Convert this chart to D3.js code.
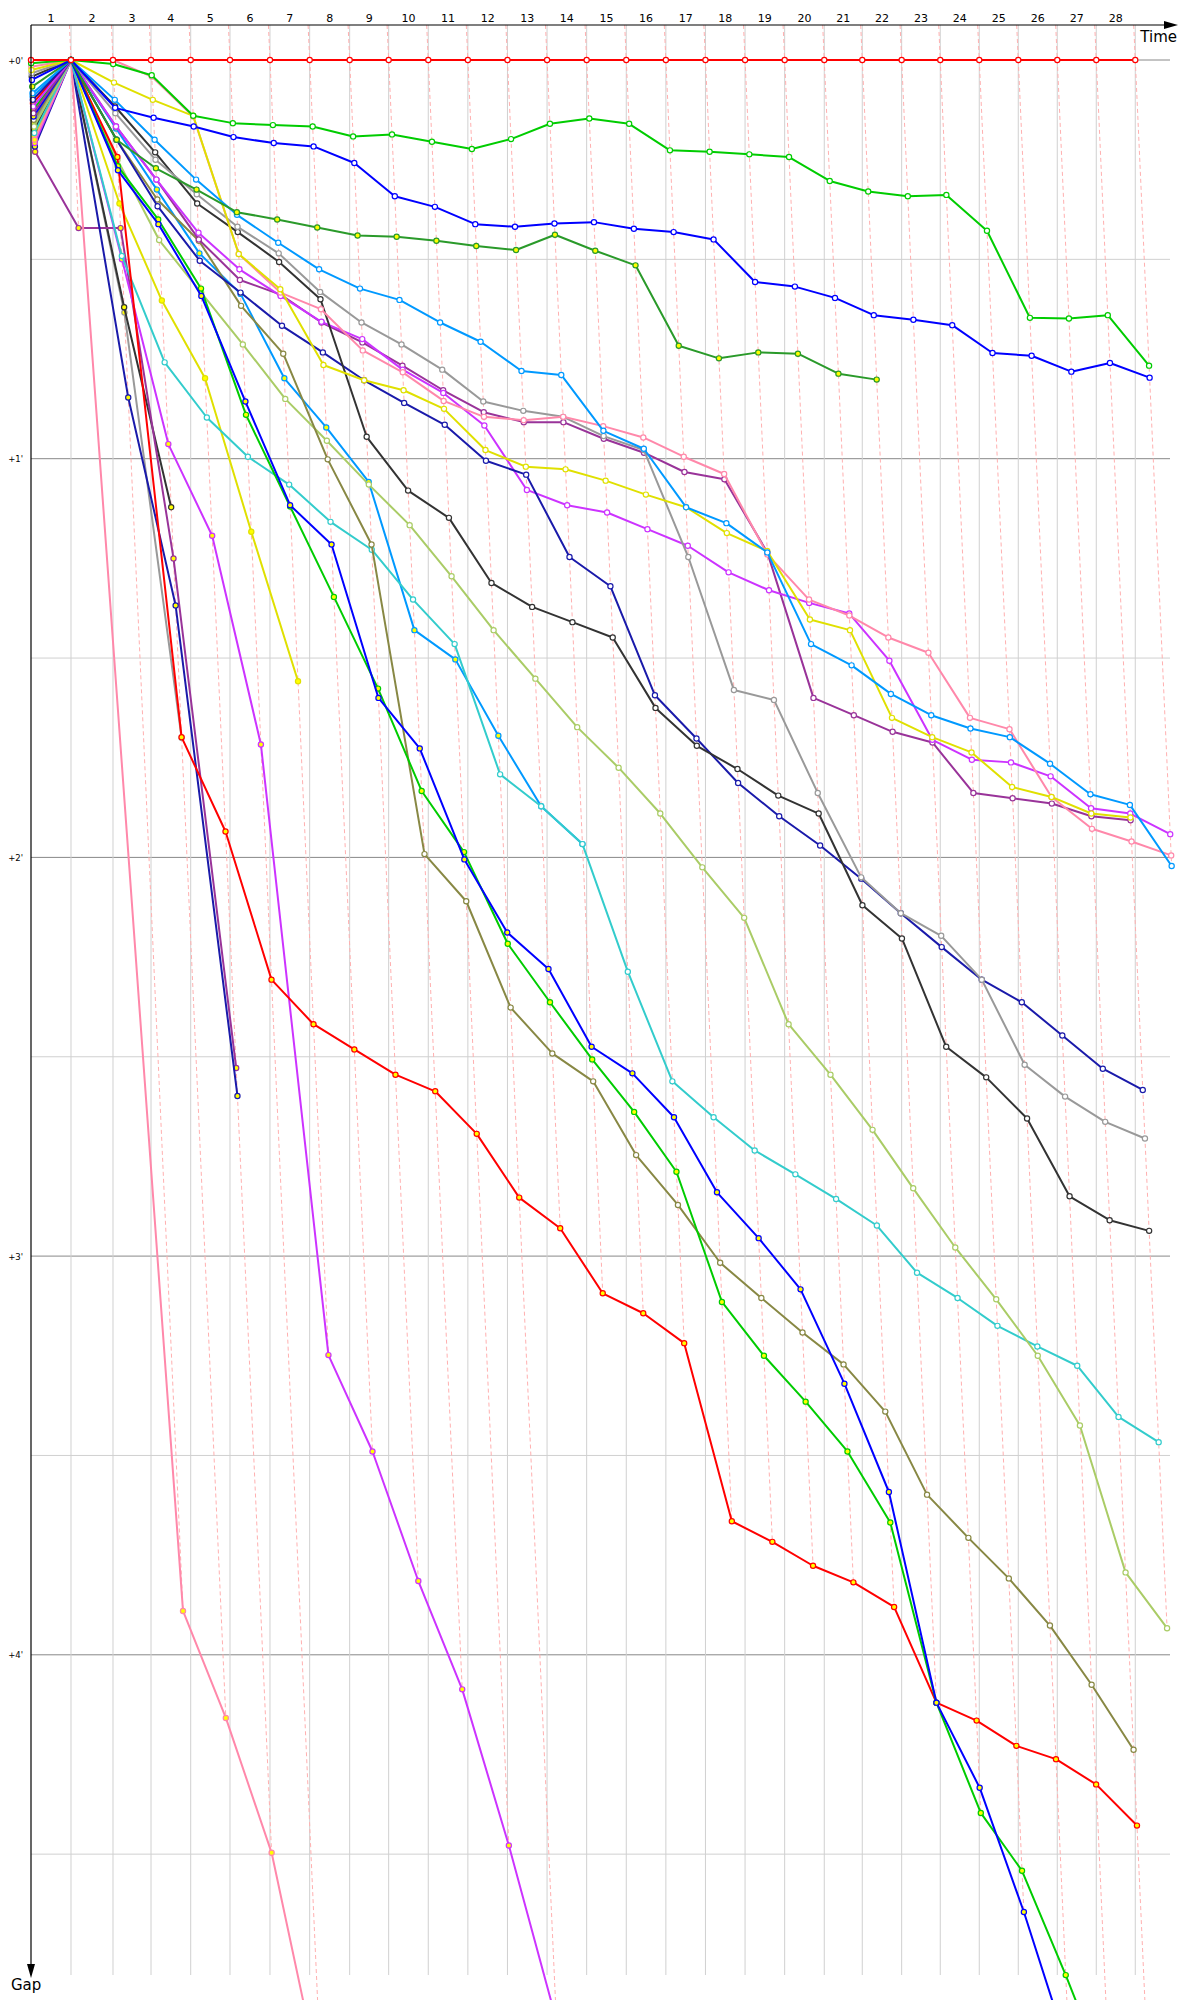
<!DOCTYPE html>
<html>
<head>
<meta charset="utf-8">
<script src="https://cdn.jsdelivr.net/npm/d3@7"></script>
<style>
  body { margin: 0; background: #fff; }
  svg { display: block; }
  text { font-family: "DejaVu Sans", sans-serif; }
</style>
</head>
<body>
<svg id="chart" width="1200" height="2000"></svg>
<script>
// lap numbers shown on the time axis
var lapLabels = d3.range(1, 29);

// leader lap times, seconds (lap 1 .. lap 28)
var leaderLapTimes = [133.3, 140, 126.7, 132.3, 131, 133.3, 132.3, 133.3, 130,
  132, 132, 132, 132, 132, 132, 132, 132, 132, 132, 132,
  126.7, 131.3, 128.7, 130, 130, 130, 130, 130];

// gap to leader in seconds, index = lap (0 = start)
var gapsLeader = d3.range(29).map(function() { return 0; });
var gapsGreen = [0.5, 0, 0.6, 2.3, 8.4, 9.5, 9.8, 10.0, 11.5, 11.2, 12.3, 13.4, 11.9, 9.6, 8.8, 9.6, 13.6, 13.8, 14.2, 14.6, 18.2, 19.8, 20.5, 20.3, 25.7, 38.8, 38.9, 38.4, 46.0];
var gapsBlue = [3, 0, 7.2, 8.7, 10.0, 11.6, 12.5, 13.0, 15.5, 20.5, 22.1, 24.7, 25.1, 24.6, 24.4, 25.4, 25.9, 27.0, 33.4, 34.1, 35.8, 38.4, 39.1, 39.9, 44.1, 44.5, 46.9, 45.6, 47.8];
var gapsForest = [4, 0, 12.0, 16.3, 19.5, 22.9, 24.0, 25.2, 26.4, 26.6, 27.2, 28.0, 28.6, 26.3, 28.7, 30.9, 43.0, 44.9, 44.0, 44.2, 47.2, 48.1];
var gapsSky = [5, 0, 6, 12, 18, 23.3, 27.5, 31.5, 34.4, 36.1, 39.5, 42.4, 46.8, 47.4, 55.8, 58.5, 67.3, 69.7, 74.1, 87.9, 91.1, 95.4, 98.6, 100.6, 101.9, 105.9, 110.5, 112.1, 121.3];
var gapsYellow = [1.5, 0, 3.4, 6.0, 8.4, 29.2, 34.5, 45.9, 48.2, 49.7, 52.5, 58.7, 61.2, 61.6, 63.3, 65.4, 67.3, 71.2, 73.9, 84.2, 85.8, 99, 101.9, 104.2, 109.4, 110.9, 113.4, 114];
var gapsPink = [1, 0, 0, 2.5, 8.5, 29.2, 35, 37.5, 43.7, 47, 51.3, 53.7, 54.2, 53.7, 55.1, 56.8, 59.7, 62.3, 74.4, 81.2, 83.6, 86.9, 89.2, 99, 100.7, 110.9, 115.7, 117.6, 119.7];
var gapsGrey = [2, 0, 8, 15, 20.2, 25.1, 29.1, 34.9, 39.5, 42.8, 46.6, 51.4, 52.8, 53.7, 56.6, 58.7, 74.8, 94.8, 96.3, 110.3, 123, 128.4, 131.8, 138.4, 151.2, 156, 159.8, 162.3];
var gapsBlack = [2.5, 0, 7, 13.9, 21.6, 25.9, 30.4, 36, 56.7, 64.8, 68.9, 78.7, 82.3, 84.6, 86.9, 97.5, 103.2, 106.7, 110.7, 113.4, 127.2, 132.2, 148.5, 153.1, 159.3, 171, 174.6, 176.2];
var gapsNavy = [6, 0, 12, 22, 30.2, 35, 40, 44, 48.2, 51.6, 54.9, 60.3, 62.4, 74.8, 79.2, 95.6, 102.1, 108.8, 113.8, 118.2, 123.2, 128.4, 133.5, 138.4, 141.8, 146.8, 151.8, 155];
var gapsMagenta = [7, 0, 10, 18, 26, 31.5, 35.5, 39.4, 42, 46.6, 50.1, 55, 64.7, 67, 68.1, 70.6, 73.1, 77.1, 79.8, 81.7, 83.3, 90.4, 102.3, 105.3, 105.7, 107.8, 112.6, 113.4, 116.5];
var gapsPurple = [8, 0, 10, 18, 27, 33.1, 35.3, 39.5, 42.5, 46, 49.7, 53, 54.5, 54.5, 57, 59.1, 62, 63.1, 74.1, 96, 98.6, 101.1, 102.7, 110.3, 111.1, 111.9, 113.8, 114.4];
var gapsOlive = [9, 0, 12, 21, 27.2, 37, 44.2, 60.1, 72.9, 119.5, 126.6, 142.6, 149.5, 153.7, 164.8, 172.3, 181, 186.3, 191.5, 196.3, 203.4, 215.9, 222.4, 228.5, 235.6, 244.5, 254.3];
var gapsLime = [10, 0, 15, 27.1, 35, 42.8, 51, 57.3, 63.9, 70, 77.7, 85.8, 93.1, 100.4, 106.5, 113.4, 121.5, 129.1, 145.1, 152.7, 161, 169.8, 178.7, 186.5, 195, 205.5, 227.6, 236];
var gapsCyan = [11, 0, 29.5, 45.5, 53.8, 59.7, 63.9, 69.5, 73.7, 81.2, 87.9, 107.5, 112.3, 118, 137.2, 153.7, 159.1, 164.1, 167.7, 171.4, 175.4, 182.5, 186.3, 190.5, 193.6, 196.5, 204.2, 208];
var gapsSky2 = [5.5, 0, 10.3, 19.5, 29.1, 35.2, 47.9, 55.3, 63.5, 85.8, 90.2, 101.7, 112.3, 118];
var gapsRed2 = [6.5, 0, 14.6, 101.9, 116.1, 138.4, 145.1, 148.9, 152.7, 155.2, 161.6, 171.2, 175.8, 185.6, 188.6, 193.1, 219.9, 223, 226.6, 229.1, 232.8, 247.2, 249.9, 253.7, 255.7, 259.5, 265.7];
var gapsGreen2 = [7.5, 0, 16, 24, 34.4, 53.4, 67.2, 80.8, 94.6, 110, 119.2, 133, 141.8, 150.4, 158.3, 167.3, 186.9, 195, 201.9, 209.4, 220.1, 247.2, 263.8, 272.5, 288.2, 305, 320];
var gapsBlue2 = [8.5, 0, 16.6, 24.7, 35.5, 51.4, 67, 72.9, 96, 103.6, 120.3, 131.3, 136.8, 148.5, 152.5, 159.1, 170.4, 177.3, 185, 199.2, 215.5, 247.2, 260.0, 278.7, 300, 318, 335];
var gapsPink2 = [12, 0, 233.4, 249.5, 269.8, 305];
var gapsMagenta2 = [12.5, 0, 30, 57.8, 71.6, 103, 194.9, 209.4, 228.9, 245.2, 268.7, 295];
var gapsNavy2 = [13, 0, 50.8, 82.1, 155.9];
var gapsPurple2 = [13.8, 25.3, 25.3, 75, 151.7];
var gapsBlack2 = [10.5, 0, 37.2, 67.3];
var gapsGrey2 = [9.5, 0, 38, 102];
var gapsYellow2 = [11.5, 0, 21.6, 36.2, 47.9, 71, 93.5];

// drawing order: first drawn ends up at the bottom
var seriesList = [
  { gaps: gapsYellow2, color: "#e0e000", fill: "#ffff00" },
  { gaps: gapsGrey2, color: "#999999", fill: "#ffff00" },
  { gaps: gapsBlack2, color: "#333333", fill: "#ffff00" },
  { gaps: gapsPurple2, color: "#993399", fill: "#ffff00" },
  { gaps: gapsNavy2, color: "#1a1aaa", fill: "#ffff00" },
  { gaps: gapsMagenta2, color: "#cc33ff", fill: "#ffff00" },
  { gaps: gapsPink2, color: "#ff88aa", fill: "#ffff00" },
  { gaps: gapsSky2, color: "#0099ff", fill: "#ffff00" },
  { gaps: gapsCyan, color: "#33cccc", fill: "#ffffff" },
  { gaps: gapsLime, color: "#aacc66", fill: "#ffffff" },
  { gaps: gapsOlive, color: "#888844", fill: "#ffffff" },
  { gaps: gapsRed2, color: "#ff0000", fill: "#ffff00" },
  { gaps: gapsGreen2, color: "#00cc00", fill: "#ffff00" },
  { gaps: gapsBlue2, color: "#0000ff", fill: "#ffff00" },
  { gaps: gapsPurple, color: "#993399", fill: "#ffffff" },
  { gaps: gapsMagenta, color: "#cc33ff", fill: "#ffffff" },
  { gaps: gapsNavy, color: "#1a1aaa", fill: "#ffffff" },
  { gaps: gapsBlack, color: "#333333", fill: "#ffffff" },
  { gaps: gapsGrey, color: "#999999", fill: "#ffffff" },
  { gaps: gapsPink, color: "#ff88aa", fill: "#ffffff" },
  { gaps: gapsYellow, color: "#e0e000", fill: "#ffffff" },
  { gaps: gapsSky, color: "#0099ff", fill: "#ffffff" },
  { gaps: gapsForest, color: "#2a9a2a", fill: "#ffff00" },
  { gaps: gapsBlue, color: "#0000ff", fill: "#ffffff" },
  { gaps: gapsGreen, color: "#00cc00", fill: "#ffffff" },
  { gaps: gapsLeader, color: "#ff0000", fill: "#ffffff" }
];

var svg = d3.select("#chart");
var plotLeft = 31, plotTop = 25, plotBottom = 1975, plotRight = 1170;

// lap end times of the leader
var lapEnd = [0];
leaderLapTimes.forEach(function(t, i) { lapEnd.push(lapEnd[i] + t); });

var x = d3.scaleLinear().domain([0, 3800]).range([plotLeft, plotLeft + 3800 * 0.3]);
var y = d3.scaleLinear().domain([0, 300]).range([60, 60 + 5 * 398.7]);

function px(k, g) { return x(lapEnd[k] + g); }

// horizontal grid, every 30 s
var hTicks = d3.range(0, 300, 30);
svg.append("g").selectAll("line").data(hTicks).join("line")
  .attr("x1", plotLeft).attr("x2", plotRight)
  .attr("y1", d => y(d)).attr("y2", d => y(d))
  .attr("stroke", d => d % 60 === 0 ? "#888" : "#d0d0d0")
  .attr("stroke-width", 1);

// vertical grid at leader lap ends
svg.append("g").selectAll("line").data(lapEnd.slice(1)).join("line")
  .attr("x1", d => x(d)).attr("x2", d => x(d))
  .attr("y1", plotTop).attr("y2", plotBottom)
  .attr("stroke", "#d0d0d0").attr("stroke-width", 1);

// dashed lap lines, down to the slowest car of that lap
var gTop = y.invert(plotTop), gBottom = y.invert(2010);
var lapLines = d3.range(1, 29).map(function(k) {
  var m = d3.max(seriesList, s => s.gaps.length > k ? s.gaps[k] : -Infinity);
  return { k: k, g1: Math.min(m, gBottom) };
});
svg.append("g").selectAll("line").data(lapLines).join("line")
  .attr("x1", d => px(d.k, gTop)).attr("y1", plotTop)
  .attr("x2", d => px(d.k, d.g1)).attr("y2", d => y(d.g1))
  .attr("stroke", "#ffb0b0").attr("stroke-width", 1)
  .attr("stroke-dasharray", "4,3");

// series
var line = d3.line().x(d => d.x).y(d => d.y);
var gSeries = svg.append("g");
seriesList.forEach(function(s) {
  var pts = s.gaps.map((g, k) => ({ x: px(k, g), y: y(g) }));
  var g = gSeries.append("g");
  g.append("path").attr("d", line(pts))
    .attr("fill", "none").attr("stroke", s.color)
    .attr("stroke-width", 2).attr("stroke-linejoin", "round");
  g.selectAll("circle").data(pts).join("circle")
    .attr("cx", d => d.x).attr("cy", d => d.y).attr("r", 2.6)
    .attr("fill", s.fill).attr("stroke", s.color).attr("stroke-width", 1.2);
});

// axes
svg.append("line").attr("x1", plotLeft).attr("y1", plotTop).attr("x2", 1166).attr("y2", plotTop)
  .attr("stroke", "#000").attr("stroke-width", 1.2);
svg.append("path").attr("d", "M1164,21L1178,25L1164,29Z").attr("fill", "#000");
svg.append("line").attr("x1", plotLeft).attr("y1", plotTop).attr("x2", plotLeft).attr("y2", 1966)
  .attr("stroke", "#000").attr("stroke-width", 1.2);
svg.append("path").attr("d", "M27,1964L31,1978L35,1964Z").attr("fill", "#000");

// lap labels centred in each lap column
svg.append("g").selectAll("text").data(lapLabels).join("text")
  .attr("x", d => (x(lapEnd[d - 1]) + x(lapEnd[d])) / 2)
  .attr("y", 21.5).attr("text-anchor", "middle")
  .attr("font-size", 11).text(d => d);

// minute labels
svg.append("g").selectAll("text").data(d3.range(0, 300, 60)).join("text")
  .attr("x", 23).attr("y", d => y(d) + 3.5).attr("text-anchor", "end")
  .attr("font-size", 8.5).text(d => "+" + (d / 60) + "'");

svg.append("text").attr("x", 1177).attr("y", 42).attr("text-anchor", "end")
  .attr("font-size", 15).text("Time");
svg.append("text").attr("x", 11).attr("y", 1990)
  .attr("font-size", 15).text("Gap");
</script>
</body>
</html>
